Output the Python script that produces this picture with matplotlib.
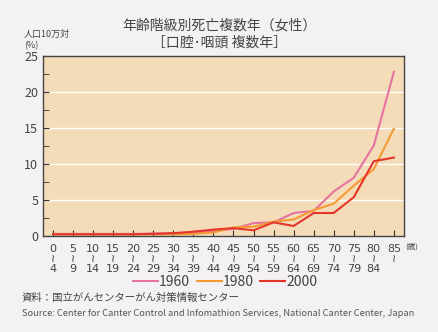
import matplotlib
matplotlib.use("Agg")
import matplotlib.pyplot as plt
import numpy as np

plt.rcParams['font.family'] = ['Noto Sans CJK JP', 'DejaVu Sans']

age_start = [0, 5, 10, 15, 20, 25, 30, 35, 40, 45, 50, 55, 60, 65, 70, 75, 80, 85]
age_end = [4, 9, 14, 19, 24, 29, 34, 39, 44, 49, 54, 59, 64, 69, 74, 79, 84, None]

rate_1960 = [0.3, 0.3, 0.3, 0.3, 0.3, 0.35, 0.4, 0.5, 0.7, 1.0, 1.8, 1.9, 3.2, 3.5, 6.2, 8.1, 12.6, 22.8]
rate_1980 = [0.25, 0.25, 0.25, 0.25, 0.25, 0.25, 0.25, 0.3, 0.5, 1.2, 1.3, 2.0, 2.3, 3.6, 4.5, 7.0, 9.3, 14.9]
rate_2000 = [0.25, 0.25, 0.25, 0.25, 0.25, 0.3, 0.4, 0.6, 0.9, 1.1, 0.8, 1.9, 1.4, 3.2, 3.2, 5.4, 10.4, 10.9]

bg = '#f3f1f4'
fig = plt.figure(figsize=(4.39, 3.32), dpi=100, facecolor=bg)
ax = fig.add_axes([0.098, 0.289, 0.822, 0.542])
ax.set_facecolor('#f5dcb8')

x = np.arange(len(age_start))
ax.plot(x, rate_1960, color='#e4749f', lw=1.5, label='1960')
ax.plot(x, rate_1980, color='#f39a35', lw=1.5, label='1980')
ax.plot(x, rate_2000, color='#e5352b', lw=1.5, label='2000')

ax.set_xlim(-0.5, 17.5)
ax.set_ylim(0, 25)
ax.set_yticks([0, 5, 10, 15, 20, 25])
ax.set_yticks([2.5, 7.5, 12.5, 17.5, 22.5], minor=True)
for v in [5, 10, 15, 20]:
    ax.axhline(v, color='white', lw=1.0, zorder=1)

labels = []
for s, e in zip(age_start, age_end):
    if e is None:
        labels.append(f"{s}\n≀\n ")
    else:
        labels.append(f"{s}\n≀\n{e}")
ax.set_xticks(x)
ax.set_xticklabels(labels, fontsize=8, color='#444444', linespacing=0.95, family=['DejaVu Sans'])
ax.tick_params(axis='x', direction='in', length=4, color='#333333', pad=6)
ax.tick_params(axis='y', which='both', direction='in', length=4, color='#333333',
               labelsize=9, labelcolor='#444444')
for sp in ax.spines.values():
    sp.set_color('#444444')
    sp.set_linewidth(1.0)

fig.text(0.938, 0.256, '(歳)', fontsize=5.5, color='#444444', ha='center', va='center')

fig.text(0.5, 0.922, '年齢階級別死亡複数年（女性）', fontsize=10, color='#444444', ha='center', va='center')
fig.text(0.5, 0.872, '［口腔･咽頭 複数年］', fontsize=10, color='#444444', ha='center', va='center')
fig.text(0.055, 0.895, '人口10万対', fontsize=6.5, color='#444444', ha='left', va='center')
fig.text(0.055, 0.862, '(%)', fontsize=6.5, color='#444444', ha='left', va='center')

fig.legend(loc='center', bbox_to_anchor=(0.513, 0.15), ncol=3, frameon=False,
           fontsize=10, handlelength=1.8, handletextpad=0.05, columnspacing=0.5,
           labelcolor='#444444')

fig.text(0.05, 0.103, '資料：国立がんセンターがん対策情報センター', fontsize=7.5, color='#444444', ha='left', va='center')
fig.text(0.05, 0.057, 'Source: Center for Canter Control and Infomathion Services, National Canter Center, Japan',
         fontsize=6.7, color='#555555', ha='left', va='center')

fig.savefig('out.png', dpi=100, facecolor=bg)
